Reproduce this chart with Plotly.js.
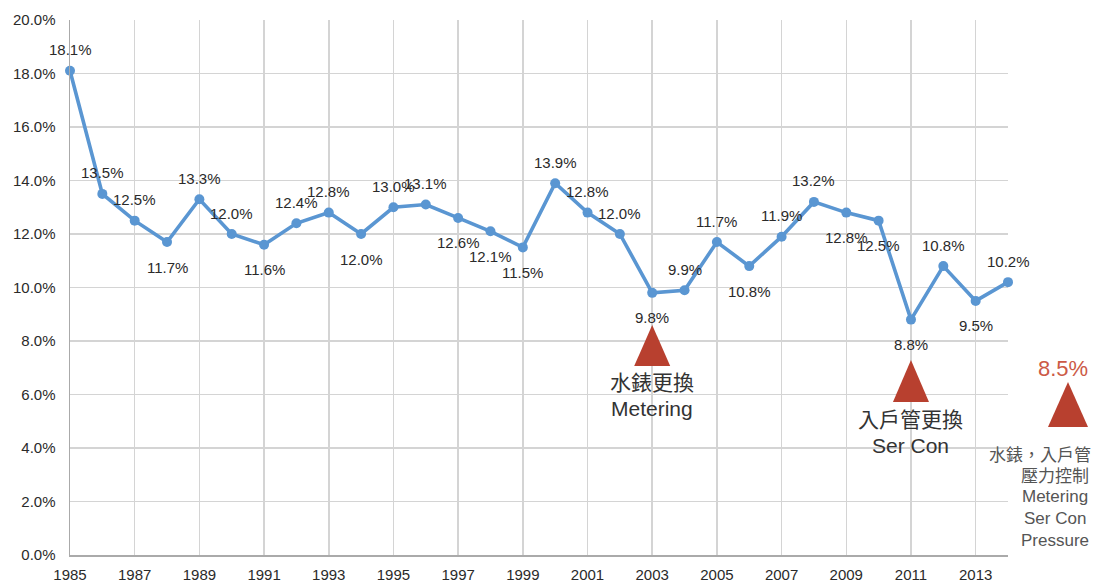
<!DOCTYPE html>
<html>
<head>
<meta charset="utf-8">
<script src="https://cdn.plot.ly/plotly-3.0.1.min.js"></script>
<style>html,body{margin:0;padding:0;background:#fff;}#chart{width:1105px;height:582px;}</style>
</head>
<body>
<div id="chart"></div>
<script>
const years = [1985,1986,1987,1988,1989,1990,1991,1992,1993,1994,1995,1996,1997,1998,1999,2000,2001,2002,2003,2004,2005,2006,2007,2008,2009,2010,2011,2012,2013,2014];
const lossRate = [18.1,13.5,12.5,11.7,13.3,12.0,11.6,12.4,12.8,12.0,13.0,13.1,12.6,12.1,11.5,13.9,12.8,12.0,9.8,9.9,11.7,10.8,11.9,13.2,12.8,12.5,8.8,10.8,9.5,10.2];
const labelSide = ['top','top','top','bottom','top','top','bottom','top','top','bottom','top','top','bottom','bottom','bottom','top','top','top','bottom','top','top','bottom','top','top','bottom','bottom','bottom','top','bottom','top'];
const xTicks = [1985,1987,1989,1991,1993,1995,1997,1999,2001,2003,2005,2007,2009,2011,2013];
const yTicks = [0,2,4,6,8,10,12,14,16,18,20];
const milestoneYears = [2003, 2011];
const milestoneZh = ['水錶更換', '入戶管更換'];
const milestoneEn = ['Metering', 'Ser Con'];
const targetRate = '8.5%';
const targetLines = ['水錶，入戶管', '壓力控制', 'Metering', 'Ser Con', 'Pressure'];

const X0 = 1985, X1 = 2014;
const fontLat = 'Liberation Sans, Arial, sans-serif';
const fontCJK = 'Liberation Sans, Noto Sans CJK TC, sans-serif';
const red = '#b8402f';
const blue = '#5a96d2';

const trace = {
  x: years, y: lossRate, type: 'scatter', mode: 'lines+markers',
  line: {color: blue, width: 3.6},
  marker: {color: blue, size: 10},
  cliponaxis: false, hoverinfo: 'none'
};

const px = yr => (yr - X0) / (X1 - X0);
const tri = (xp, yp, w, h) => ({
  type: 'path', xref: 'paper', yref: 'paper', xsizemode: 'pixel', ysizemode: 'pixel',
  xanchor: xp, yanchor: yp, path: `M${-w/2},0 L${w/2},0 L0,${h} Z`,
  fillcolor: red, line: {width: 0}, layer: 'above'
});
// plot area: top 20 px, height 535 px
const py = pix => (555 - pix) / 535;
const pxp = pix => (pix - 70) / 938;

const shapes = [
  tri(px(milestoneYears[0]), py(366), 36, 41),
  tri(px(milestoneYears[1]), py(402), 36, 42),
  tri(pxp(1068), py(427), 40, 45)
];

const annotations = [];
years.forEach((yr, i) => {
  annotations.push({x: yr, y: lossRate[i], xref: 'x', yref: 'y',
    text: lossRate[i].toFixed(1) + '%', showarrow: false,
    xanchor: 'center', yanchor: 'middle',
    yshift: labelSide[i] === 'top' ? 21 : -25,
    font: {family: fontLat, size: 15, color: '#2a2a2a'}});
});
milestoneYears.forEach((yr, i) => {
  const base = i === 0 ? 382 : 419;
  annotations.push({x: yr, xref: 'x', y: py(base), yref: 'paper', text: milestoneZh[i], showarrow: false,
    font: {family: fontCJK, size: 21, color: '#333'}, xanchor: 'center', yanchor: 'middle'});
  annotations.push({x: yr, xref: 'x', y: py(base + 26), yref: 'paper', text: milestoneEn[i], showarrow: false,
    font: {family: fontLat, size: 21, color: '#333'}, xanchor: 'center', yanchor: 'middle'});
});
annotations.push({x: pxp(1063), xref: 'paper', y: py(368), yref: 'paper', text: targetRate, showarrow: false,
  font: {family: fontLat, size: 22, color: '#cc5a46'}, xanchor: 'center', yanchor: 'middle'});
const targetX = [1040, 1055, 1055, 1055, 1055];
const targetY = [455, 476, 496, 518, 540];
targetLines.forEach((t, i) => {
  annotations.push({x: pxp(targetX[i]), xref: 'paper', y: py(targetY[i]), yref: 'paper', text: t, showarrow: false,
    font: {family: fontCJK, size: 17, color: '#555'}, xanchor: 'center', yanchor: 'middle'});
});

const layout = {
  width: 1105, height: 582,
  margin: {l: 70, r: 97, t: 20, b: 27},
  paper_bgcolor: '#fff', plot_bgcolor: '#fff',
  showlegend: false,
  xaxis: {
    range: [X0, X1], tickvals: xTicks, ticktext: xTicks.map(String),
    showgrid: true, gridcolor: '#d4d4d4', gridwidth: 1.5,
    showline: true, linecolor: '#aaa', linewidth: 1.5,
    zeroline: false, ticks: '', ticklabelstandoff: 5,
    tickfont: {family: fontLat, size: 15, color: '#2a2a2a'}
  },
  yaxis: {
    range: [0, 20], tickvals: yTicks, ticktext: yTicks.map(v => v.toFixed(1) + '%'),
    showgrid: true, gridcolor: '#d4d4d4', gridwidth: 1.5,
    showline: true, linecolor: '#aaa', linewidth: 1.5,
    zeroline: false, ticks: '', ticklabelstandoff: 10,
    tickfont: {family: fontLat, size: 15, color: '#2a2a2a'}
  },
  shapes: shapes,
  annotations: annotations
};

Plotly.newPlot('chart', [trace], layout, {staticPlot: true, displayModeBar: false});
</script>
</body>
</html>
